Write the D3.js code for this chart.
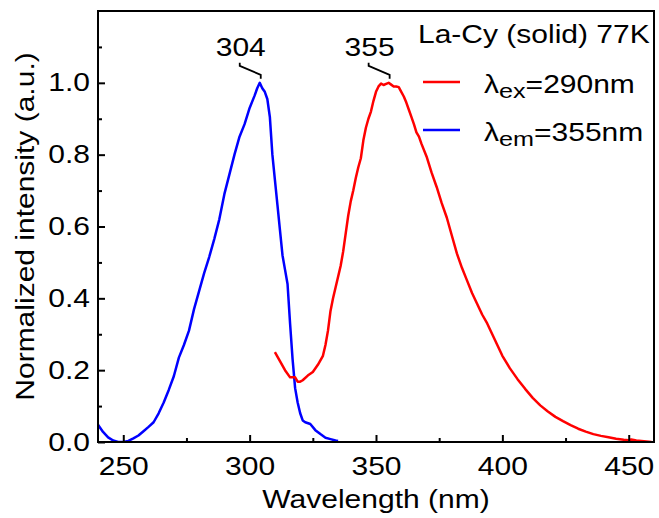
<!DOCTYPE html>
<html><head><meta charset="utf-8">
<script src="https://cdn.jsdelivr.net/npm/d3@7"></script>
<style>
html,body{margin:0;padding:0;background:#fff;}
svg{display:block;}
text{font-family:"Liberation Sans",Arial,Helvetica,sans-serif;fill:#000;}
</style>
</head><body>
<svg id="chart" width="659" height="518"></svg>
<script>
// ---- Data ----
// Excitation spectrum (monitored at 355 nm) - blue
const exWavelength = [240,242,244,246,248,250,252,254,256,258,260,262,264,266,268,270,272,274,276,278,280,282,284,286,288,290,292,294,296,298,300,302,303,304,305,306,307,308,309,310,311,312,313,314,315,316,317,318,319,320,321,322,324,326,328,330,332,334,335];
const exIntensity  = [0.048,0.028,0.013,0.004,0.0,0.0,0.003,0.01,0.018,0.03,0.042,0.055,0.08,0.11,0.145,0.183,0.235,0.27,0.31,0.37,0.42,0.47,0.515,0.565,0.62,0.69,0.745,0.8,0.85,0.885,0.93,0.965,0.985,1.0,0.985,0.975,0.955,0.905,0.8,0.73,0.66,0.59,0.52,0.48,0.44,0.33,0.23,0.15,0.11,0.08,0.06,0.055,0.05,0.033,0.022,0.012,0.008,0.004,0.003];
// Emission spectrum (excited at 290 nm) - red
const emWavelength = [310,312,314,316,318,319,320,321,323,325,327,329,330,331,332,333,334,335,336,337,338,339,340,341,342,343,344,345,346,347,348,349,350,351,352,353,354,355,356,357,358,359,360,361,362,363,364,365,366,367,368,370,372,374,376,378,380,382,384,386,388,390,392,394,396,398,400,403,406,409,412,415,418,421,424,427,430,433,436,439,442,445,448,450,451,453,456,459];
const emIntensity  = [0.25,0.225,0.2,0.18,0.18,0.168,0.168,0.172,0.185,0.195,0.215,0.24,0.27,0.31,0.365,0.40,0.43,0.46,0.49,0.53,0.58,0.63,0.67,0.70,0.735,0.765,0.79,0.84,0.875,0.90,0.92,0.95,0.975,0.99,0.998,0.994,0.997,1.0,0.995,0.99,0.99,0.988,0.975,0.962,0.945,0.925,0.905,0.885,0.862,0.85,0.83,0.795,0.75,0.71,0.665,0.625,0.575,0.525,0.485,0.45,0.415,0.385,0.355,0.33,0.30,0.27,0.24,0.205,0.175,0.148,0.123,0.102,0.085,0.07,0.058,0.047,0.037,0.029,0.022,0.017,0.013,0.009,0.006,0.005,0.007,0.004,0.002,0.0];

const xMajorTicks = [250,300,350,400,450];
const xMinorTicks = [275,325,375,425];
const yMajorTicks = [0.0,0.2,0.4,0.6,0.8,1.0];
const yMinorTicks = [0.1,0.3,0.5,0.7,0.9,1.1];

const peakWavelengths = [304,355];
const peakValues = [1.0,1.0];
const peakLabels = ["304","355"];

const legendTitle = "La-Cy (solid) 77K";
const legendSymbols = ["ex","em"];
const legendValues = ["=290nm","=355nm"];
const legendColors = ["#ff0000","#0000ff"];

const xTitle = "Wavelength (nm)";
const yTitle = "Normalized intensity (a.u.)";

// ---- Layout ----
const SX = 1.2;       // horizontal stretch of the glyphs
const FS = 25;
const plot = {left:98, top:11, right:654, bottom:442};

const svg = d3.select("#chart");
const x = d3.scaleLinear().domain([240,460]).range([plot.left, plot.right]);
const y = d3.scaleLinear().domain([0,1.2]).range([plot.bottom, plot.top]);

// clip
svg.append("defs").append("clipPath").attr("id","clip")
  .append("rect").attr("x",plot.left).attr("y",plot.top)
  .attr("width",plot.right-plot.left).attr("height",plot.bottom-plot.top);

// curves
const line = d3.line().x(d=>x(d[0])).y(d=>y(d[1]));
const gCurves = svg.append("g").attr("clip-path","url(#clip)");
gCurves.append("path").datum(d3.zip(exWavelength, exIntensity))
  .attr("d", line).attr("fill","none").attr("stroke",legendColors[1])
  .attr("stroke-width",2.5).attr("stroke-linejoin","round");
gCurves.append("path").datum(d3.zip(emWavelength, emIntensity))
  .attr("d", line).attr("fill","none").attr("stroke",legendColors[0])
  .attr("stroke-width",2.5).attr("stroke-linejoin","round");

// axes
function styleAxis(g){
  g.attr("font-size",null).attr("font-family",null);
  g.select(".domain").remove();
  g.selectAll(".tick line").attr("stroke","#000").attr("stroke-width",2);
}
const gx = svg.append("g").attr("transform",`translate(0,${plot.bottom})`)
  .call(d3.axisBottom(x).tickValues(xMajorTicks).tickSizeInner(-7).tickSizeOuter(0)
        .tickPadding(15).tickFormat(d3.format("d")));
styleAxis(gx);
gx.selectAll(".tick text").attr("font-size",FS).attr("transform",`scale(${SX},1)`);

const gxm = svg.append("g").attr("transform",`translate(0,${plot.bottom})`)
  .call(d3.axisBottom(x).tickValues(xMinorTicks).tickSizeInner(-4).tickSizeOuter(0).tickFormat(""));
styleAxis(gxm);

const gy = svg.append("g").attr("transform",`translate(${plot.left},0)`)
  .call(d3.axisLeft(y).tickValues(yMajorTicks).tickSizeInner(-7).tickSizeOuter(0)
        .tickPadding(8).tickFormat(d3.format(".1f")));
styleAxis(gy);
gy.selectAll(".tick text").attr("font-size",FS).attr("x",-8/SX).attr("transform",`scale(${SX},1)`);

const gym = svg.append("g").attr("transform",`translate(${plot.left},0)`)
  .call(d3.axisLeft(y).tickValues(yMinorTicks).tickSizeInner(-4).tickSizeOuter(0).tickFormat(""));
styleAxis(gym);

// frame
svg.append("rect").attr("x",plot.left).attr("y",plot.top)
  .attr("width",plot.right-plot.left).attr("height",plot.bottom-plot.top)
  .attr("fill","none").attr("stroke","#000").attr("stroke-width",2);

// axis titles
svg.append("text").attr("transform",`translate(${(plot.left+plot.right)/2},508) scale(${SX},1)`)
  .attr("text-anchor","middle").attr("font-size",FS).text(xTitle);
svg.append("text").attr("transform",`translate(34,${(plot.top+plot.bottom)/2}) rotate(-90) scale(${SX},1)`)
  .attr("text-anchor","middle").attr("font-size",FS).text(yTitle);

// peak annotations
peakWavelengths.forEach((w,i)=>{
  const px = x(w), py = y(peakValues[i]);
  const lx = px - 20;
  svg.append("path")
    .attr("d",`M${lx},${py-20} L${lx},${py-17} L${px+1},${py-8} L${px+1},${py-4}`)
    .attr("fill","none").attr("stroke","#000").attr("stroke-width",1.8);
  svg.append("text").attr("transform",`translate(${lx+1},${py-27}) scale(${SX},1)`)
    .attr("text-anchor","middle").attr("font-size",FS).text(peakLabels[i]);
});

// legend
svg.append("text").attr("transform",`translate(418,43) scale(${SX},1)`)
  .attr("font-size",FS).text(legendTitle);
legendSymbols.forEach((s,i)=>{
  const ly = 82 + i*48;
  svg.append("line").attr("x1",423).attr("x2",460).attr("y1",ly).attr("y2",ly)
    .attr("stroke",legendColors[i]).attr("stroke-width",2.5);
  const t = svg.append("text").attr("transform",`translate(484,${ly+11}) scale(${SX},1)`)
    .attr("font-size",FS);
  t.append("tspan").text("λ");
  t.append("tspan").attr("font-size",21).attr("dy",5).text(s);
  t.append("tspan").attr("dy",-5).text(legendValues[i]);
});
</script>
</body></html>
